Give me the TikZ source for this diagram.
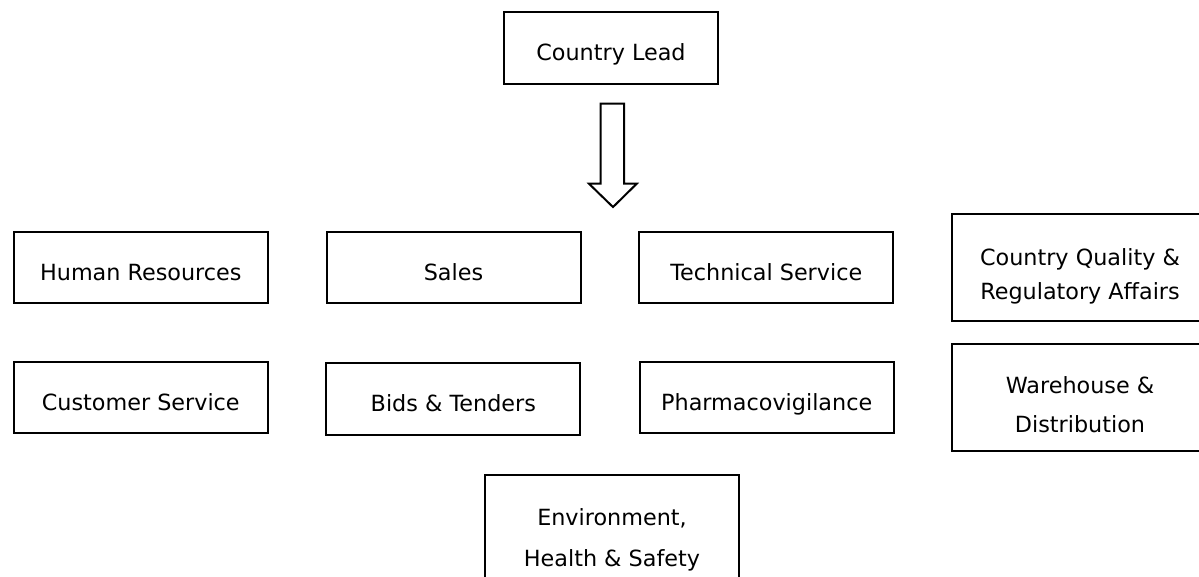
\documentclass[tikz,border=0pt]{standalone}
\usepackage{fontspec}
\setmainfont{DejaVu Sans}
\usepackage{tikz}
\newcommand{\framecolor}{black}
\newcommand{\framewidth}{2pt}
\newcommand{\unitfont}{\fontsize{22.3}{27}\selectfont}
\tikzset{
  unit/.style={draw=\framecolor, line width=\framewidth, minimum width=254pt, minimum height=71.7pt,
    inner sep=0pt, text height=25pt, text depth=0pt, font=\unitfont},
  twoline/.style={align=center, inner sep=0pt, anchor=base},
  unitframe/.style={draw=\framecolor, line width=\framewidth},
}

\begin{document}
\begin{tikzpicture}[x=1pt, y=-1pt]
\useasboundingbox (0,0) rectangle (1199,577);
\node[unit, minimum width=213.7pt] (lead) at (611,48.2) {Country Lead};
\node[unit] (hr) at (140.8,267.5) {Human Resources};
\node[unit] (sales) at (453.5,267.5) {Sales};
\node[unit] (tech) at (766.3,267.5) {Technical Service};
\node[unit] (cs) at (140.8,397.5) {Customer Service};
\node[unit] (bids) at (453.3,398.8) {Bids \& Tenders};
\node[unit] (pv) at (766.7,397.5) {Pharmacovigilance};
%two-line units
\node[twoline, font=\fontsize{22.3}{34}\selectfont] (cqra) at (1080,299) {Country Quality \&\\Regulatory Affairs};
\draw[unitframe] (952.3,214) rectangle (1215,320.7);
\node[twoline, font=\fontsize{22.3}{39}\selectfont] (wh) at (1080,432.3) {Warehouse \&\\Distribution};
\draw[unitframe] (952.3,344) rectangle (1215,450.7);
\node[twoline, font=\fontsize{22.3}{41.7}\selectfont] (ehs) at (612,566.7) {Environment,\\Health \& Safety};
\draw[unitframe] (485,475) rectangle (739,600);
%block arrow
\draw[unitframe, line join=miter] ([shift={(-10.3,18.7)}]lead.south) -- ++(0,80) -- ++(-11.7,0)
  -- ++(24,23.3) -- ++(23.7,-23.3) -- ++(-12.7,0) -- ++(0,-80) -- cycle;
\end{tikzpicture}
\end{document}
